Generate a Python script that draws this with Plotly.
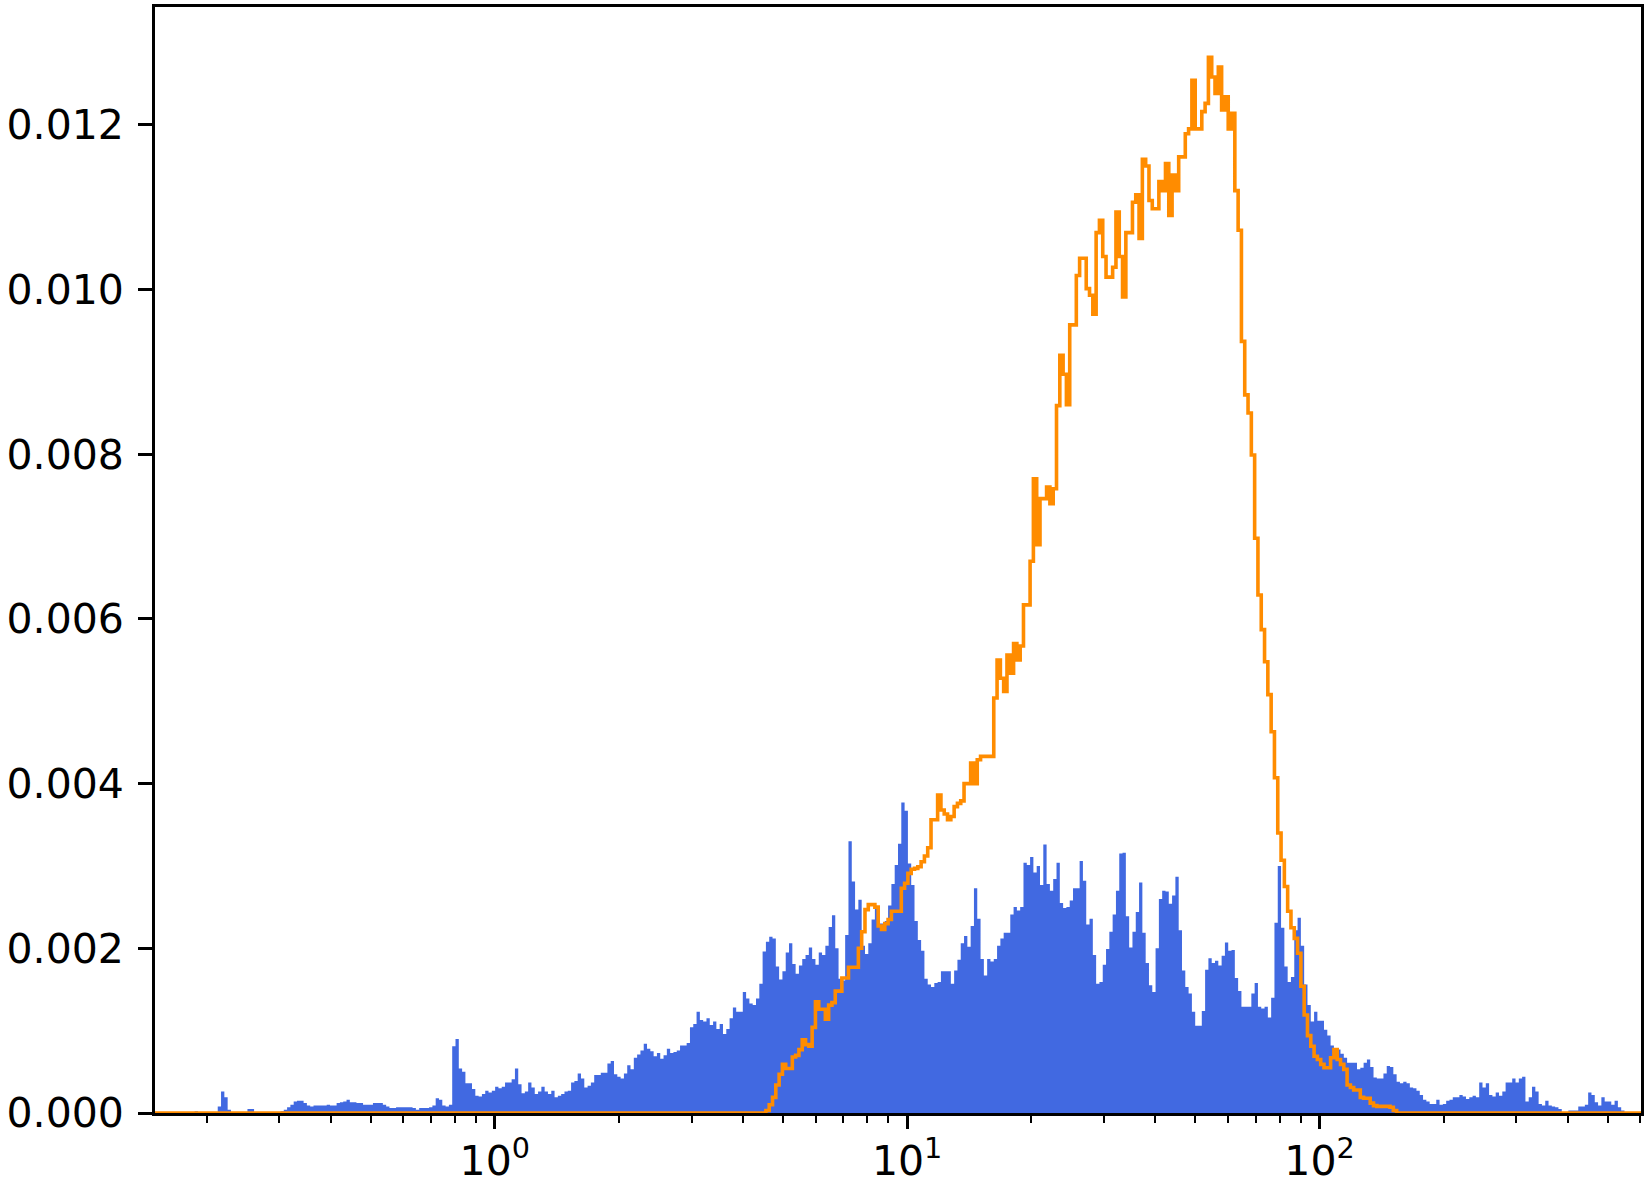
import numpy as np
import plotly.graph_objects as go

# ---------------- data (densities in units of 1e-5) ----------------
X_MIN, X_MAX = 0.15, 602.0
Y_MAX = 0.01343

blue_e5 = (
    [0] * 12 + [2] + [0] * 6 + [8, 26, 19, 4] + [0] * 5 + [5, 5] + [0] * 8
    + [2, 4, 7, 10, 14, 15, 15, 12, 9, 8]
    + [9, 9, 9, 9, 10, 9, 9, 12, 13, 14]
    + [16, 13, 13, 12, 12, 10, 10, 10, 12, 12]
    + [12, 10, 8, 6, 6, 7, 7, 7, 7, 7]
    + [6, 4, 6, 6, 6, 7, 9, 18, 16, 9]
    + [8, 10, 81, 90, 54, 50, 36, 36, 29, 21]
    + [20, 23, 27, 25, 27, 32, 30, 32, 37, 37]
    + [41, 54, 35, 24, 26, 37, 31, 23, 26, 32]
    + [26, 23, 27, 19, 21, 23, 26, 27, 37, 39]
    + [48, 42, 31, 33, 37, 46, 46, 49, 49, 60]
    + [63, 47, 44, 42, 48, 58, 53, 67, 71, 76]
    + [84, 78, 75, 69, 73, 66, 70, 78, 73, 74]
    + [76, 82, 82, 85, 104, 108, 123, 113, 111, 115]
    + [107, 111, 102, 108, 96, 102, 115, 128, 123, 123]
    + [147, 139, 133, 131, 139, 157, 196, 208, 214, 212]
    + [178, 162, 172, 195, 206, 181, 169, 179, 187, 192]
    + [201, 187, 180, 195, 192, 203, 226, 240, 200, 163]
    + [161, 216, 330, 281, 247, 259, 203, 193, 206, 235]
    + [249, 230, 230, 233, 252, 278, 301, 327, 377, 367]
    + [303, 277, 233, 210, 197, 163, 156, 153, 158, 159]
    + [172, 172, 172, 157, 173, 186, 206, 215, 202, 227]
    + [273, 236, 187, 167, 187, 184, 187, 203, 212, 219]
    + [219, 241, 250, 246, 250, 304, 301, 311, 292, 300]
    + [277, 326, 278, 270, 284, 304, 255, 249, 250, 258]
    + [273, 273, 306, 282, 229, 236, 192, 157, 159, 180]
    + [199, 220, 241, 270, 315, 316, 239, 201, 220, 244]
    + [280, 219, 182, 155, 147, 200, 260, 270, 269, 254]
    + [264, 287, 222, 173, 153, 145, 123, 106, 106, 124]
    + [174, 188, 182, 185, 179, 191, 207, 197, 198, 164]
    + [148, 129, 129, 129, 145, 158, 129, 127, 129, 116]
    + [140, 231, 300, 225, 178, 159, 165, 222, 237, 203]
    + [156, 131, 111, 123, 112, 112, 101, 94, 82, 77]
    + [77, 72, 67, 61, 61, 61, 53, 55, 61, 65]
    + [56, 43, 42, 42, 48, 57, 56, 47, 38, 36]
    + [38, 36, 31, 30, 27, 22, 16, 14, 11, 11]
    + [16, 10, 11, 15, 16, 19, 19, 22, 20, 17]
    + [19, 21, 19, 37, 31, 36, 22, 20, 25, 21]
    + [26, 37, 37, 42, 37, 42, 44, 14, 19, 32]
    + [26, 11, 9, 15, 9, 8, 7, 5, 0, 0]
    + [3, 3, 3, 8, 8, 10, 25, 22, 13, 9]
    + [19, 14, 14, 10, 15, 7, 3, 0, 0, 0]
    + [0, 0]
)

orange_e5 = (
    [0] * 185
    + [3, 10, 19, 34, 47, 59, 54, 54, 68, 70]
    + [77, 89, 83, 81, 104, 135, 126, 126, 114, 131]
    + [134, 148, 148, 164, 164, 177, 177, 177, 200, 220]
    + [247, 253, 253, 250, 227, 223, 230, 235, 245, 245]
    + [245, 273, 279, 291, 296, 297, 299, 305, 312, 322]
    + [356, 356, 386, 368, 363, 356, 360, 372, 376, 379]
    + [400, 400, 425, 400, 429, 433, 433, 433, 433, 504]
    + [550, 528, 512, 556, 534, 570, 550, 567, 617, 617]
    + [670, 770, 690, 746, 746, 760, 740, 758, 859, 920]
    + [897, 860, 957, 957, 1017, 1038, 1038, 1001, 993, 970]
    + [1069, 1084, 1040, 1015, 1015, 1027, 1094, 1040, 991, 1069]
    + [1069, 1106, 1115, 1062, 1158, 1150, 1108, 1098, 1098, 1131]
    + [1120, 1153, 1090, 1139, 1120, 1161, 1161, 1189, 1195, 1254]
    + [1195, 1195, 1216, 1226, 1282, 1258, 1238, 1270, 1218, 1234]
    + [1195, 1214, 1120, 1072, 937, 872, 850, 799, 698, 629]
    + [587, 548, 508, 463, 407, 340, 307, 275, 245, 225]
    + [212, 194, 154, 119, 94, 81, 69, 65, 59, 55]
    + [55, 67, 77, 65, 59, 53, 34, 31, 28, 28]
    + [19, 18, 18, 12, 9, 8, 8, 8, 8, 7]
    + [3]
)

y_tick_vals = [0.000, 0.002, 0.004, 0.006, 0.008, 0.010, 0.012]
y_tick_text = ["0.000", "0.002", "0.004", "0.006", "0.008", "0.010", "0.012"]
x_tick_vals = [1, 10, 100]
x_tick_text = ["10<sup>0</sup>", "10<sup>1</sup>", "10<sup>2</sup>"]
x_minor_vals = ([0.2, 0.3, 0.4, 0.5, 0.6, 0.7, 0.8, 0.9]
                + [2, 3, 4, 5, 6, 7, 8, 9]
                + [20, 30, 40, 50, 60, 70, 80, 90]
                + [200, 300, 400, 500, 600])

# ---------------- build ----------------
N = len(blue_e5)
orange_e5 = (list(orange_e5) + [0] * N)[:N]
edges = np.logspace(np.log10(X_MIN), np.log10(X_MAX), N + 1)
blue = np.array(blue_e5, dtype=float) * 1e-5
orange = np.array(orange_e5, dtype=float) * 1e-5
yb = np.append(blue, blue[-1])
yo = np.append(orange, 0.0)

BLUE = "#4169E1"
ORANGE = "#FF8C00"
FONT = "DejaVu Sans"

fig = go.Figure()
fig.add_trace(go.Scatter(
    x=edges, y=yb, mode="lines",
    line=dict(shape="hv", width=0, color=BLUE),
    fill="tozeroy", fillcolor=BLUE, hoverinfo="skip", showlegend=False,
))
fig.add_trace(go.Scatter(
    x=edges, y=yo, mode="lines",
    line=dict(shape="hv", width=3.6, color=ORANGE),
    hoverinfo="skip", showlegend=False,
))

fig.update_layout(
    width=1648, height=1184,
    margin=dict(l=155, r=7, t=7, b=71, pad=0),
    paper_bgcolor="white", plot_bgcolor="white",
    font=dict(family=FONT, size=41, color="black"),
    showlegend=False,
)
fig.update_xaxes(
    type="log", range=[np.log10(X_MIN), np.log10(X_MAX)],
    automargin=False,
    showline=True, linecolor="black", linewidth=2.8, mirror=True,
    ticks="outside", ticklen=13, tickwidth=2.5, tickcolor="black",
    tickvals=x_tick_vals, ticktext=x_tick_text,
    tickfont=dict(family=FONT, size=41, color="black"),
    ticklabelstandoff=-3,
    showgrid=False, zeroline=False,
    minor=dict(tickvals=x_minor_vals, ticks="outside", ticklen=7.5,
               tickwidth=2, tickcolor="black", showgrid=False),
)
fig.update_yaxes(
    range=[0, Y_MAX],
    automargin=False,
    showline=True, linecolor="black", linewidth=2.8, mirror=True,
    ticks="outside", ticklen=14, tickwidth=2.5, tickcolor="black",
    tickvals=y_tick_vals, ticktext=y_tick_text,
    tickfont=dict(family=FONT, size=41, color="black"),
    ticklabelstandoff=6,
    showgrid=False, zeroline=False,
)

fig.write_html(
    "out.html",
    config={"displayModeBar": False},
    post_script="document.body.style.margin='0';document.body.style.overflow='hidden';",
)
